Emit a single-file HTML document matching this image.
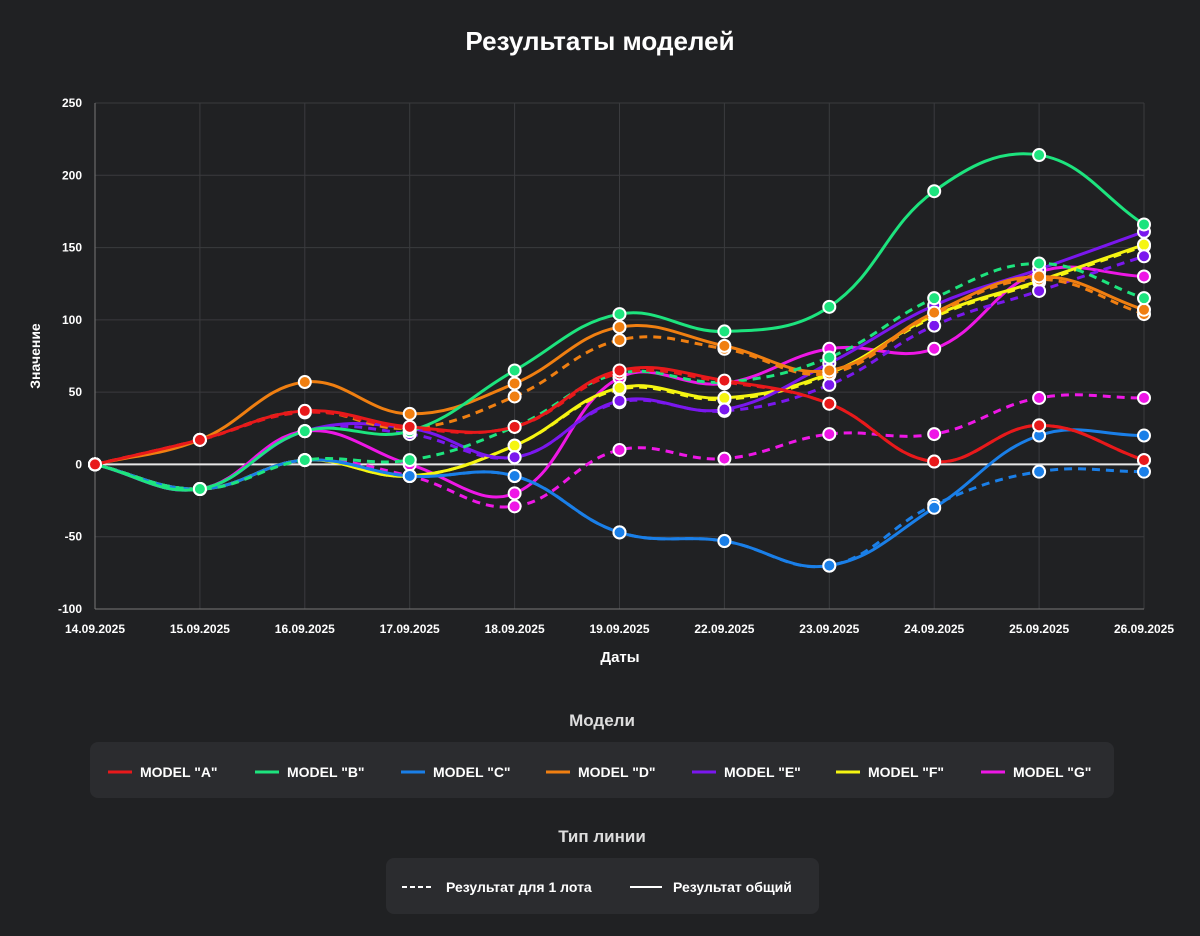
<!DOCTYPE html>
<html><head><meta charset="utf-8">
<style>
body{margin:0;background:#202123;width:1200px;height:931px;overflow:hidden;font-family:"Liberation Sans",sans-serif;color:#fff}
</style></head>
<body>
<svg id="chart" width="1200" height="931" xmlns="http://www.w3.org/2000/svg"></svg>
<script>
const categories=["14.09.2025","15.09.2025","16.09.2025","17.09.2025","18.09.2025","19.09.2025","22.09.2025","23.09.2025","24.09.2025","25.09.2025","26.09.2025"];
const yTicks=[-100,-50,0,50,100,150,200,250];
const modelNames=['MODEL "A"','MODEL "B"','MODEL "C"','MODEL "D"','MODEL "E"','MODEL "F"','MODEL "G"'];
const modelColors=["#e8191b","#1de47e","#1a7fe8","#f07f11","#7a17ee","#f5f512","#ee17e6"];
const solidA=[0,17,37,26,26,65,58,42,2,27,3];
const dashA=[0,17,36,25,26,63,57,42,2,27,3];
const solidB=[0,-17,23,23,65,104,92,109,189,214,166];
const dashB=[0,-17,3,3,26,63,57,74,115,139,115];
const solidC=[0,-17,3,-8,-8,-47,-53,-70,-30,20,20];
const dashC=[0,-17,3,-8,-8,-47,-53,-70,-28,-5,-5];
const solidD=[0,17,57,35,56,95,82,65,105,130,107];
const dashD=[0,17,37,25,47,86,80,63,104,128,104];
const solidE=[0,-17,23,25,5,44,38,70,110,135,161];
const dashE=[0,-17,23,21,5,43,37,55,96,120,144];
const solidF=[0,-17,3,-8,13,53,46,63,103,127,152];
const dashF=[0,-17,3,-8,13,52,45,62,102,126,151];
const solidG=[0,-17,23,0,-20,60,56,80,80,133,130];
const dashG=[0,-17,3,-8,-29,10,4,21,21,46,46];
const solidSeries=[solidA,solidB,solidC,solidD,solidE,solidF,solidG];
const dashSeries=[dashA,dashB,dashC,dashD,dashE,dashF,dashG];

const NS="http://www.w3.org/2000/svg";
const svg=document.getElementById('chart');
const L=95,R=1144,T=103,B=609,ymin=-100,ymax=250;
const xs=i=>L+i*(R-L)/(categories.length-1);
const ys=v=>B-(v-ymin)*(B-T)/(ymax-ymin);
function el(tag,attrs,parent){const e=document.createElementNS(NS,tag);for(const k in attrs)e.setAttribute(k,attrs[k]);(parent||svg).appendChild(e);return e;}
function txt(s,attrs){const e=el('text',attrs);e.textContent=s;return e;}

txt("Результаты моделей",{x:600,y:50,'text-anchor':'middle','font-size':26,'font-weight':'bold',fill:'#fff',});

const grid=el('g',{});


yTicks.forEach(v=>{
  el('line',{x1:L,x2:R,y1:ys(v),y2:ys(v),stroke:'#3a3b3e','stroke-width':1},grid);
  const t=txt(String(v),{x:82,y:ys(v)+4,'text-anchor':'end','font-size':12,'font-weight':'bold',fill:'#fff'});
  
  
});
categories.forEach((c,i)=>{
  el('line',{x1:xs(i),x2:xs(i),y1:T,y2:B,stroke:'#3a3b3e','stroke-width':1},grid);
  const t=txt(c,{x:xs(i),y:633,'text-anchor':'middle','font-size':12,'font-weight':'bold',fill:'#fff'});
  
  
});
el('line',{x1:L,x2:L,y1:T,y2:B,stroke:'#777','stroke-width':1});
el('line',{x1:L,x2:R,y1:B,y2:B,stroke:'#777','stroke-width':1});
el('line',{x1:L,x2:R,y1:ys(0),y2:ys(0),stroke:'#e8e8e8','stroke-width':2,});
txt("Даты",{x:620,y:662,'text-anchor':'middle','font-size':15,'font-weight':'bold',fill:'#fff',});
txt("Значение",{x:0,y:0,transform:'translate(40,356) rotate(-90)','text-anchor':'middle','font-size':14,'font-weight':'bold',fill:'#fff',});

function pathFor(vals){
  const p=vals.map((v,i)=>[xs(i),ys(v)]);const t=0.4;const cps=[];
  for(let i=0;i<p.length;i++){
    const pr=p[i-1]||p[i],cu=p[i],nx=p[i+1]||p[i];
    const d01=Math.hypot(cu[0]-pr[0],cu[1]-pr[1]),d12=Math.hypot(nx[0]-cu[0],nx[1]-cu[1]);
    let fa=d01/(d01+d12||1),fb=d12/(d01+d12||1);fa*=t;fb*=t;
    cps.push({p:[cu[0]-fa*(nx[0]-pr[0]),cu[1]-fa*(nx[1]-pr[1])],n:[cu[0]+fb*(nx[0]-pr[0]),cu[1]+fb*(nx[1]-pr[1])]});
  }
  let d=`M${p[0][0]},${p[0][1]}`;
  for(let i=1;i<p.length;i++)d+=` C${cps[i-1].n[0]},${cps[i-1].n[1]} ${cps[i].p[0]},${cps[i].p[1]} ${p[i][0]},${p[i][1]}`;
  return d;
}
function drawSeries(vals,color,dashed,name){
  const g=el('g',{});
  
  
  const a={d:pathFor(vals),fill:'none',stroke:color,'stroke-width':3};
  if(dashed)a['stroke-dasharray']='8 6';
  el('path',a,g);
  vals.forEach((v,i)=>{
    const c=el('circle',{cx:xs(i),cy:ys(v),r:6,fill:color,stroke:'#fff','stroke-width':2},g);
    
    
  });
}
for(let m=6;m>=0;m--){
  drawSeries(dashSeries[m],modelColors[m],true,'series-'+String.fromCharCode(97+m)+'-dashed');
  drawSeries(solidSeries[m],modelColors[m],false,'series-'+String.fromCharCode(97+m)+'-solid');
}

txt("Модели",{x:602,y:726,'text-anchor':'middle','font-size':17,'font-weight':'bold',fill:'#ddd',});
el('rect',{x:90,y:742,width:1024,height:56,rx:8,fill:'#2b2c2f',});
const lx=[108,255,401,546,692,836,981];
modelNames.forEach((n,i)=>{
  const g=el('g',{});
  
  
  el('line',{x1:lx[i],x2:lx[i]+24,y1:772,y2:772,stroke:modelColors[i],'stroke-width':3},g);
  const t=el('text',{x:lx[i]+32,y:777,'font-size':14,'font-weight':'bold',fill:'#fff'},g);t.textContent=n;
});
txt("Тип линии",{x:602,y:842,'text-anchor':'middle','font-size':17,'font-weight':'bold',fill:'#ddd',});
el('rect',{x:386,y:858,width:433,height:56,rx:8,fill:'#2b2c2f',});
const g1=el('g',{});


el('line',{x1:402,x2:434,y1:887,y2:887,stroke:'#fff','stroke-width':2,'stroke-dasharray':'5 3'},g1);
let t1=el('text',{x:446,y:892,'font-size':14,'font-weight':'bold',fill:'#fff'},g1);t1.textContent="Результат для 1 лота";
const g2=el('g',{});


el('line',{x1:630,x2:662,y1:887,y2:887,stroke:'#fff','stroke-width':2},g2);
let t2=el('text',{x:673,y:892,'font-size':14,'font-weight':'bold',fill:'#fff'},g2);t2.textContent="Результат общий";
</script>
</body></html>
